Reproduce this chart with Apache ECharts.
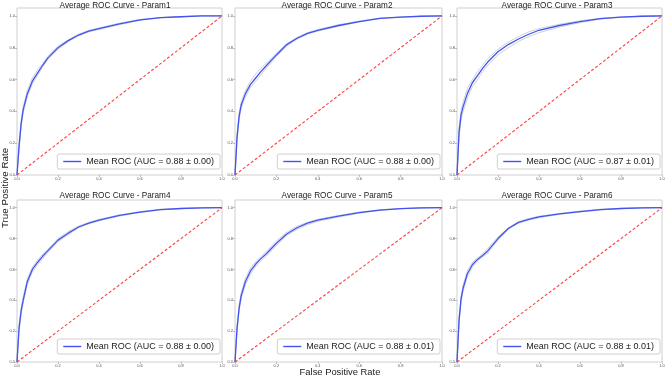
<!DOCTYPE html>
<html>
<head>
<meta charset="utf-8">
<script src="https://cdn.jsdelivr.net/npm/echarts@6/dist/echarts.min.js"></script>
<style>
  html, body { margin: 0; padding: 0; background: #fff; }
  #chart { width: 669px; height: 377px; }
</style>
</head>
<body>
<div id="chart"></div>
<script>
// shared false positive rate grid
const fpr = [0, 0.01, 0.02, 0.03, 0.05, 0.075, 0.1, 0.125, 0.15, 0.2, 0.25, 0.3, 0.35, 0.4, 0.5, 0.6, 0.7, 0.8, 0.9, 1]
const tickValues = [0, 0.2, 0.4, 0.6, 0.8, 1.0]
const titles = ['Average ROC Curve - Param1', 'Average ROC Curve - Param2', 'Average ROC Curve - Param3',
  'Average ROC Curve - Param4', 'Average ROC Curve - Param5', 'Average ROC Curve - Param6']
const legendNames = ['Mean ROC (AUC = 0.88 ± 0.00)', 'Mean ROC (AUC = 0.88 ± 0.00)', 'Mean ROC (AUC = 0.87 ± 0.01)',
  'Mean ROC (AUC = 0.88 ± 0.00)', 'Mean ROC (AUC = 0.88 ± 0.01)', 'Mean ROC (AUC = 0.88 ± 0.01)']

// mean tpr per panel
const meanParam1 = [0, 0.18, 0.32, 0.41, 0.51, 0.59, 0.64, 0.69, 0.735, 0.80, 0.845, 0.88, 0.905, 0.92, 0.95, 0.975, 0.99, 0.995, 1, 1]
const meanParam2 = [0, 0.24, 0.37, 0.44, 0.51, 0.57, 0.61, 0.65, 0.685, 0.755, 0.82, 0.86, 0.89, 0.91, 0.94, 0.965, 0.985, 0.993, 0.998, 1]
const meanParam3 = [0, 0.27, 0.38, 0.43, 0.51, 0.58, 0.625, 0.67, 0.71, 0.775, 0.82, 0.855, 0.885, 0.91, 0.94, 0.965, 0.983, 0.993, 0.998, 1]
const meanParam4 = [0, 0.22, 0.33, 0.40, 0.52, 0.60, 0.645, 0.685, 0.72, 0.79, 0.835, 0.875, 0.90, 0.92, 0.95, 0.972, 0.988, 0.995, 0.999, 1]
const meanParam5 = [0, 0.22, 0.35, 0.43, 0.52, 0.59, 0.635, 0.67, 0.70, 0.77, 0.83, 0.87, 0.90, 0.92, 0.945, 0.968, 0.985, 0.994, 0.999, 1]
const meanParam6 = [0, 0.27, 0.41, 0.48, 0.57, 0.63, 0.665, 0.69, 0.72, 0.80, 0.865, 0.905, 0.925, 0.94, 0.96, 0.975, 0.988, 0.995, 0.999, 1]

// individual folds (light grey)
const foldsParam1 = [
  [0, 0.20, 0.34, 0.43, 0.53, 0.61, 0.66, 0.70, 0.745, 0.81, 0.85, 0.885, 0.91, 0.925, 0.955, 0.978, 0.99, 0.996, 1, 1],
  [0, 0.16, 0.30, 0.39, 0.49, 0.575, 0.625, 0.68, 0.725, 0.79, 0.84, 0.875, 0.90, 0.915, 0.945, 0.972, 0.988, 0.995, 1, 1]
]
const foldsParam2 = [
  [0, 0.26, 0.39, 0.46, 0.53, 0.59, 0.635, 0.67, 0.70, 0.765, 0.825, 0.865, 0.895, 0.915, 0.945, 0.968, 0.987, 0.994, 0.998, 1],
  [0, 0.22, 0.35, 0.42, 0.49, 0.55, 0.59, 0.63, 0.67, 0.745, 0.81, 0.855, 0.885, 0.905, 0.935, 0.962, 0.983, 0.992, 0.998, 1]
]
const foldsParam3 = [
  [0, 0.30, 0.41, 0.46, 0.54, 0.60, 0.65, 0.69, 0.73, 0.79, 0.835, 0.87, 0.90, 0.92, 0.948, 0.97, 0.986, 0.994, 0.998, 1],
  [0, 0.24, 0.35, 0.40, 0.48, 0.555, 0.60, 0.65, 0.69, 0.755, 0.80, 0.84, 0.87, 0.895, 0.93, 0.958, 0.98, 0.992, 0.998, 1]
]
const foldsParam4 = [
  [0, 0.24, 0.35, 0.42, 0.54, 0.615, 0.66, 0.70, 0.73, 0.80, 0.845, 0.88, 0.905, 0.925, 0.953, 0.975, 0.99, 0.996, 0.999, 1],
  [0, 0.20, 0.31, 0.38, 0.50, 0.585, 0.63, 0.67, 0.71, 0.78, 0.825, 0.87, 0.895, 0.915, 0.946, 0.969, 0.986, 0.994, 0.999, 1]
]
const foldsParam5 = [
  [0, 0.24, 0.37, 0.45, 0.54, 0.61, 0.65, 0.685, 0.715, 0.785, 0.84, 0.88, 0.905, 0.925, 0.95, 0.972, 0.987, 0.995, 0.999, 1],
  [0, 0.20, 0.33, 0.41, 0.50, 0.57, 0.62, 0.655, 0.685, 0.755, 0.82, 0.86, 0.89, 0.912, 0.94, 0.964, 0.983, 0.993, 0.999, 1]
]
const foldsParam6 = [
  [0, 0.29, 0.43, 0.50, 0.59, 0.645, 0.675, 0.70, 0.735, 0.81, 0.87, 0.91, 0.93, 0.945, 0.963, 0.978, 0.99, 0.996, 0.999, 1],
  [0, 0.25, 0.39, 0.46, 0.55, 0.615, 0.655, 0.68, 0.705, 0.79, 0.86, 0.90, 0.92, 0.935, 0.957, 0.972, 0.986, 0.994, 0.999, 1]
]
const diagX = [0, 1]
const diagY = [0, 1]

const means = [meanParam1, meanParam2, meanParam3, meanParam4, meanParam5, meanParam6]
const folds = [foldsParam1, foldsParam2, foldsParam3, foldsParam4, foldsParam5, foldsParam6]

const cols = [{ left: 17, width: 205 }, { left: 235, width: 207 }, { left: 457, width: 205 }]
const rows = [{ top: 8, height: 167 }, { top: 200, height: 162 }]
const titleX = [115, 337, 557]
const titleY = [2, 192]
const legendTop = [154, 339]

const font = 'Liberation Sans, Arial, sans-serif'
const pairs = (xs, ys) => xs.map((x, i) => [x, ys[i]])

const grid = [], xAxis = [], yAxis = [], series = [], title = [], legend = []
for (let i = 0; i < 6; i++) {
  const c = cols[i % 3], r = rows[Math.floor(i / 3)]
  grid.push({
    left: c.left, top: r.top, width: c.width, height: r.height,
    show: true, borderColor: '#cfcfcf', borderWidth: 1, backgroundColor: '#fff'
  })
  const axisCommon = {
    gridIndex: i,
    type: 'value',
    min: 0,
    interval: 0.2,
    splitLine: { show: false },
    axisLine: { show: false },
    axisTick: { show: true, length: 2, lineStyle: { color: '#999', width: 0.6 }, customValues: tickValues },
    axisLabel: { fontSize: 4, color: '#555', margin: 2, fontFamily: font, customValues: tickValues, formatter: v => v.toFixed(1) }
  }
  xAxis.push({ ...axisCommon, max: 1 })
  yAxis.push({ ...axisCommon, max: 1.05 })

  folds[i].forEach((f, k) => {
    series.push({
      name: 'fold' + k + '-' + i, type: 'line', xAxisIndex: i, yAxisIndex: i,
      data: pairs(fpr, f), symbol: 'none', silent: true,
      lineStyle: { color: 'rgba(150,160,170,0.6)', width: 0.8 }
    })
  })
  series.push({
    name: legendNames[i], type: 'line', xAxisIndex: i, yAxisIndex: i,
    data: pairs(fpr, means[i]), symbol: 'none',
    lineStyle: { color: '#4352f2', width: 1.3 }, itemStyle: { color: '#4352f2' }
  })
  series.push({
    name: 'chance-' + i, type: 'line', xAxisIndex: i, yAxisIndex: i,
    data: pairs(diagX, diagY), symbol: 'none', silent: true,
    lineStyle: { color: '#ff4040', width: 1.1, type: [3, 2] }
  })

  title.push({
    text: titles[i], left: titleX[i % 3], top: titleY[Math.floor(i / 3)], padding: 0,
    textAlign: 'center',
    textStyle: { fontSize: 8.2, fontWeight: 'normal', color: '#222', fontFamily: font }
  })
  legend.push({
    data: [{ name: legendNames[i], icon: 'rect' }],
    right: 669 - (c.left + c.width) + 2,
    top: legendTop[Math.floor(i / 3)],
    orient: 'horizontal',
    itemWidth: 18, itemHeight: 1.4, itemGap: 4,
    padding: [3, 6],
    backgroundColor: '#fff', borderColor: '#d0d0d0', borderWidth: 1, borderRadius: 2,
    textStyle: { fontSize: 9, color: '#222', fontFamily: font },
    selectedMode: false
  })
}

const chart = echarts.init(document.getElementById('chart'), null, { renderer: 'canvas' })
chart.setOption({
  animation: false,
  backgroundColor: '#fff',
  title, legend, grid, xAxis, yAxis, series,
  graphic: [
    { type: 'text', x: 5, y: 188, rotation: Math.PI / 2,
      style: { text: 'True Positive Rate', fontSize: 9.8, fill: '#222', font: '9.8px ' + font, align: 'center', verticalAlign: 'middle' } },
    { type: 'text', x: 340, y: 372,
      style: { text: 'False Positive Rate', fontSize: 9.4, fill: '#222', font: '9.4px ' + font, align: 'center', verticalAlign: 'middle' } }
  ]
})
</script>
</body>
</html>
